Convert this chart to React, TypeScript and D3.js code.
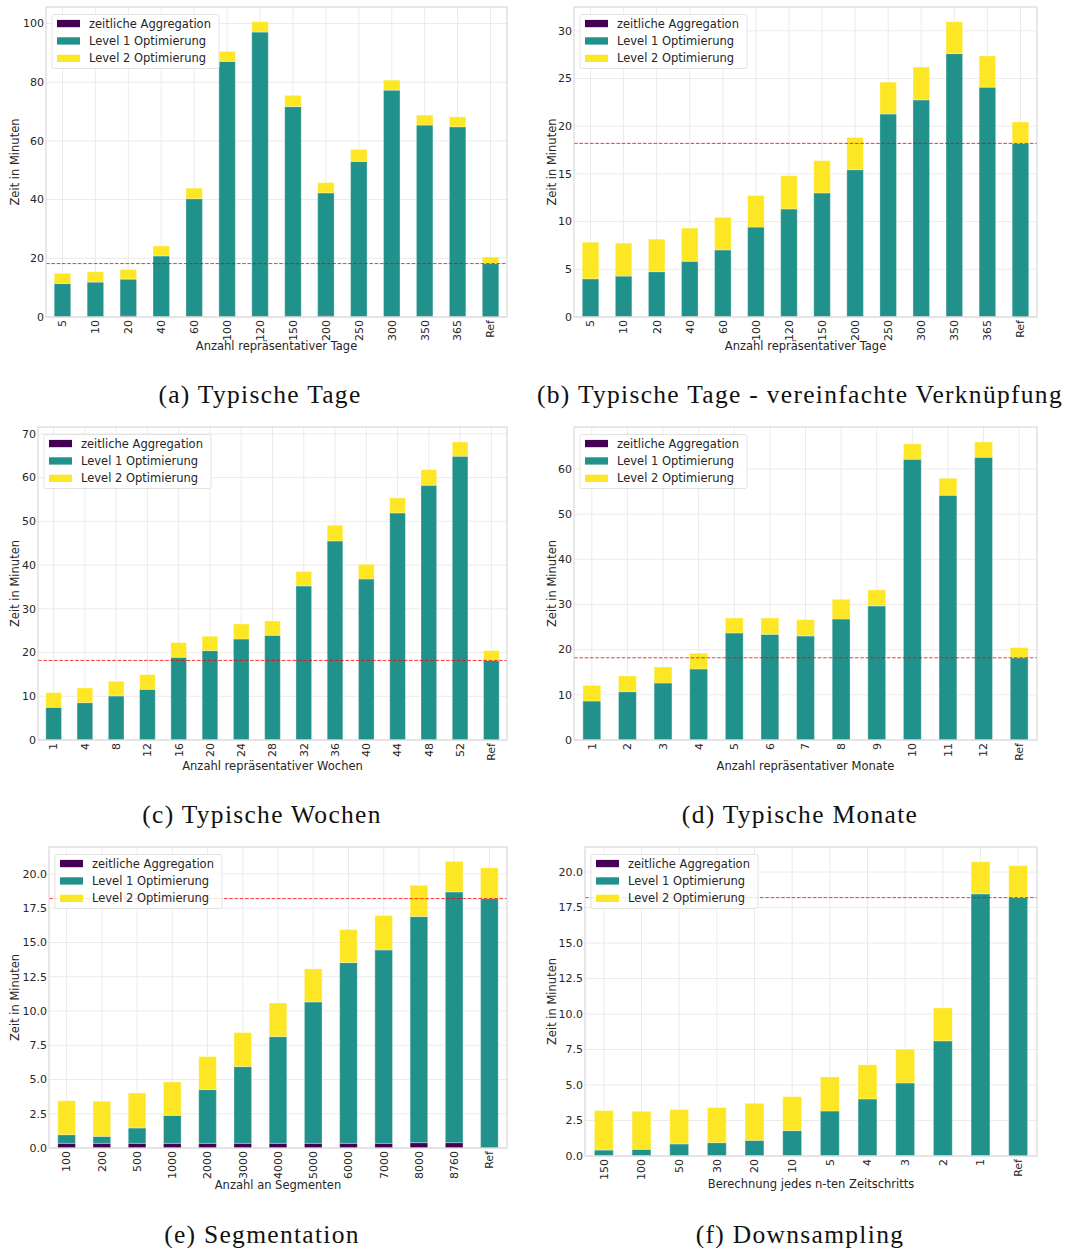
import * as d3 from 'd3';

// legend entries / colours (viridis, 3 classes)
const seriesNames = ['zeitliche Aggregation', 'Level 1 Optimierung', 'Level 2 Optimierung'];
const seriesColors = ['#440154', '#21918c', '#fde725'];
const refLine = 18.2;

// (a) Typische Tage
const catsA = ['5', '10', '20', '40', '60', '100', '120', '150', '200', '250', '300', '350', '365', 'Ref'];
const aggA = [0.1, 0.1, 0.3, 0.1, 0.2, 0.1, 0.2, 0.2, 0.3, 0.1, 0.1, 0.2, 0.2, 0];
const l1A = [11.3, 11.8, 12.6, 20.7, 40.1, 87.0, 96.9, 71.5, 42.0, 52.9, 77.2, 65.2, 64.6, 18.2];
const l2A = [3.5, 3.5, 3.3, 3.4, 3.6, 3.4, 3.5, 3.8, 3.5, 4.1, 3.4, 3.4, 3.4, 2.25];
const ticksA = [0, 20, 40, 60, 80, 100];

// (b) Typische Tage - vereinfachte Verknüpfung
const catsB = catsA;
const aggB = [0.05, 0.05, 0.05, 0.05, 0.05, 0.05, 0.05, 0.05, 0.05, 0.05, 0.05, 0.05, 0.05, 0];
const l1B = [3.95, 4.24, 4.7, 5.79, 6.98, 9.38, 11.28, 12.96, 15.39, 21.23, 22.71, 27.56, 24.04, 18.2];
const l2B = [3.84, 3.45, 3.41, 3.48, 3.42, 3.3, 3.48, 3.38, 3.38, 3.34, 3.44, 3.34, 3.28, 2.25];
const ticksB = [0, 5, 10, 15, 20, 25, 30];

// (c) Typische Wochen
const catsC = ['1', '4', '8', '12', '16', '20', '24', '28', '32', '36', '40', '44', '48', '52', 'Ref'];
const aggC = [0.02, 0.02, 0.02, 0.02, 0.02, 0.02, 0.02, 0.02, 0.02, 0.02, 0.02, 0.02, 0.02, 0.02, 0];
const l1C = [7.45, 8.52, 10.05, 11.57, 18.89, 20.42, 23.08, 23.92, 35.21, 45.5, 36.81, 51.91, 58.24, 64.87, 18.2];
const l2C = [3.36, 3.36, 3.35, 3.36, 3.36, 3.28, 3.44, 3.28, 3.28, 3.59, 3.36, 3.43, 3.58, 3.28, 2.25];
const ticksC = [0, 10, 20, 30, 40, 50, 60, 70];

// (d) Typische Monate
const catsD = ['1', '2', '3', '4', '5', '6', '7', '8', '9', '10', '11', '12', 'Ref'];
const aggD = [0.02, 0.02, 0.02, 0.02, 0.02, 0.02, 0.02, 0.02, 0.02, 0.02, 0.02, 0.02, 0];
const l1D = [8.61, 10.68, 12.6, 15.7, 23.67, 23.37, 23.01, 26.77, 29.65, 62.12, 54.15, 62.56, 18.2];
const l2D = [3.47, 3.47, 3.54, 3.47, 3.32, 3.62, 3.61, 4.35, 3.54, 3.4, 3.76, 3.4, 2.25];
const ticksD = [0, 10, 20, 30, 40, 50, 60];

// (e) Segmentation
const catsE = ['100', '200', '500', '1000', '2000', '3000', '4000', '5000', '6000', '7000', '8000', '8760', 'Ref'];
const aggE = [0.34, 0.34, 0.34, 0.34, 0.34, 0.34, 0.34, 0.34, 0.34, 0.34, 0.39, 0.39, 0];
const l1E = [0.63, 0.51, 1.12, 2.04, 3.92, 5.6, 7.79, 10.32, 13.19, 14.11, 16.5, 18.3, 18.2];
const l2E = [2.48, 2.56, 2.55, 2.44, 2.41, 2.48, 2.45, 2.41, 2.41, 2.51, 2.28, 2.23, 2.25];
const ticksE = [0, 2.5, 5, 7.5, 10, 12.5, 15, 17.5, 20];

// (f) Downsampling
const catsF = ['150', '100', '50', '30', '20', '10', '5', '4', '3', '2', '1', 'Ref'];
const aggF = [0.03, 0.03, 0.03, 0.03, 0.03, 0.03, 0.03, 0.03, 0.03, 0.03, 0.03, 0];
const l1F = [0.39, 0.44, 0.82, 0.91, 1.07, 1.76, 3.14, 3.99, 5.12, 8.08, 18.44, 18.2];
const l2F = [2.78, 2.68, 2.42, 2.47, 2.61, 2.39, 2.4, 2.4, 2.37, 2.32, 2.26, 2.25];
const ticksF = ticksE;

const SANS = '"DejaVu Sans", sans-serif';
const SERIF = '"Liberation Serif", serif';
const TEXT = '#262626';

interface PanelProps {
  cats: string[];
  series: number[][];
  yTicks: number[];
  decimals: number;
  xLabel: string;
  caption: string;
  left: number;
  right: number;
  top: number;
  bottom: number;
  yLabelX: number;
  xLabelY: number;
  capX: number;
  capY: number;
}

const Panel = (p: PanelProps) => {
  const x = d3.scaleBand<string>().domain(p.cats).range([p.left, p.right]).paddingInner(0.5).paddingOuter(0.25);
  const totals = p.cats.map((_, i) => d3.sum(p.series, (s) => s[i]));
  const y = d3.scaleLinear().domain([0, (d3.max(totals) ?? 1) * 1.05]).range([p.bottom, p.top]);
  const stacked = d3.stack<number>().keys(p.series.map((_, k) => String(k)))
    .value((i, key) => p.series[+key][i])(p.cats.map((_, i) => i));
  const fmt = d3.format(`.${p.decimals}f`);
  const midX = (p.left + p.right) / 2;
  const midY = (p.top + p.bottom) / 2;

  return (
    <g>
      {/* grid */}
      {p.yTicks.map((t) => (
        <line key={'gy' + t} x1={p.left} x2={p.right} y1={y(t)} y2={y(t)} stroke="#ebebeb" strokeWidth={1} />
      ))}
      {p.cats.map((c) => (
        <line key={'gx' + c} x1={x(c)! + x.bandwidth() / 2} x2={x(c)! + x.bandwidth() / 2} y1={p.top} y2={p.bottom} stroke="#ebebeb" strokeWidth={1} />
      ))}
      {/* bars */}
      {stacked.map((layer, k) => (
        <g key={'s' + k} fill={seriesColors[k]}>
          {layer.map((d, i) => (
            <rect
              key={i}
              x={x(p.cats[i])}
              width={x.bandwidth()}
              y={y(d[1])}
              height={Math.max(0, y(d[0]) - y(d[1]))}
              stroke="#ffffff"
              strokeOpacity={0.3}
              strokeWidth={1}
            />
          ))}
        </g>
      ))}
      {/* reference line */}
      <line x1={p.left} x2={p.right} y1={y(refLine)} y2={y(refLine)} stroke="#ff0000" strokeOpacity={0.8} strokeWidth={1} strokeDasharray="3.7,1.6" />
      {/* frame */}
      <rect x={p.left} y={p.top} width={p.right - p.left} height={p.bottom - p.top} fill="none" stroke="#d9d9d9" strokeWidth={1.2} />
      {/* y ticks */}
      {p.yTicks.map((t) => (
        <text key={'ty' + t} x={p.left - 2} y={y(t)} dy="0.35em" textAnchor="end" fontSize={11} fill={TEXT} fontFamily={SANS}>
          {fmt(t)}
        </text>
      ))}
      {/* x ticks */}
      {p.cats.map((c) => (
        <text
          key={'tx' + c}
          transform={`translate(${x(c)! + x.bandwidth() / 2},${p.bottom + 3}) rotate(-90)`}
          dy="0.35em"
          textAnchor="end"
          fontSize={11}
          fill={TEXT}
          fontFamily={SANS}
        >
          {c}
        </text>
      ))}
      {/* axis labels */}
      <text x={midX} y={p.xLabelY} textAnchor="middle" fontSize={11.5} fill={TEXT} fontFamily={SANS}>
        {p.xLabel}
      </text>
      <text transform={`translate(${p.yLabelX},${midY}) rotate(-90)`} textAnchor="middle" dy="0.35em" fontSize={11.5} fill={TEXT} fontFamily={SANS}>
        Zeit in Minuten
      </text>
      {/* legend */}
      <g transform={`translate(${p.left + 6},${p.top + 7.5})`}>
        <rect width={167} height={54} rx={2} fill="#ffffff" fillOpacity={0.8} stroke="#e3e3e3" strokeWidth={1} />
        {seriesNames.map((n, k) => (
          <g key={n} transform={`translate(0,${9 + k * 17.4})`}>
            <rect x={5} y={-3.6} width={23} height={7.3} fill={seriesColors[k]} />
            <text x={37} y={0} dy="0.35em" fontSize={11.5} fill={TEXT} fontFamily={SANS}>
              {n}
            </text>
          </g>
        ))}
      </g>
      {/* caption */}
      <text x={p.capX} y={p.capY} textAnchor="middle" fontSize={25.5} letterSpacing={1.3} fill="#111" fontFamily={SERIF}>
        {p.caption}
      </text>
    </g>
  );
};

export default function App() {
  const panels: PanelProps[] = [
    { cats: catsA, series: [aggA, l1A, l2A], yTicks: ticksA, decimals: 0, xLabel: 'Anzahl repräsentativer Tage', caption: '(a) Typische Tage',
      left: 46, right: 507, top: 7, bottom: 317, yLabelX: 15, xLabelY: 350, capX: 260, capY: 403 },
    { cats: catsB, series: [aggB, l1B, l2B], yTicks: ticksB, decimals: 0, xLabel: 'Anzahl repräsentativer Tage', caption: '(b) Typische Tage - vereinfachte Verknüpfung',
      left: 574, right: 1037, top: 7, bottom: 317, yLabelX: 552, xLabelY: 350, capX: 800, capY: 403 },
    { cats: catsC, series: [aggC, l1C, l2C], yTicks: ticksC, decimals: 0, xLabel: 'Anzahl repräsentativer Wochen', caption: '(c) Typische Wochen',
      left: 38, right: 507, top: 427, bottom: 740, yLabelX: 15, xLabelY: 770, capX: 262, capY: 823 },
    { cats: catsD, series: [aggD, l1D, l2D], yTicks: ticksD, decimals: 0, xLabel: 'Anzahl repräsentativer Monate', caption: '(d) Typische Monate',
      left: 574, right: 1037, top: 427, bottom: 740, yLabelX: 552, xLabelY: 770, capX: 800, capY: 823 },
    { cats: catsE, series: [aggE, l1E, l2E], yTicks: ticksE, decimals: 1, xLabel: 'Anzahl an Segmenten', caption: '(e) Segmentation',
      left: 49, right: 507, top: 847, bottom: 1148, yLabelX: 15, xLabelY: 1189, capX: 262, capY: 1243 },
    { cats: catsF, series: [aggF, l1F, l2F], yTicks: ticksF, decimals: 1, xLabel: 'Berechnung jedes n-ten Zeitschritts', caption: '(f) Downsampling',
      left: 585, right: 1037, top: 847, bottom: 1156, yLabelX: 552, xLabelY: 1188, capX: 800, capY: 1243 },
  ];

  return (
    <svg width={1067} height={1248} style={{ position: 'absolute', left: 0, top: 0, background: '#fff' }}>
      {panels.map((p) => (
        <Panel key={p.caption} {...p} />
      ))}
    </svg>
  );
}
